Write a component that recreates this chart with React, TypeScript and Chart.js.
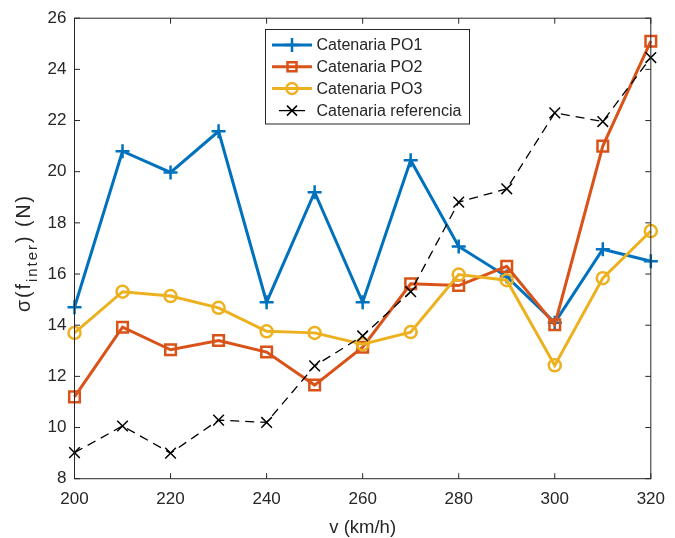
import React, { useEffect, useRef } from "react";
import { Chart, registerables } from "chart.js";

Chart.register(...registerables);

const speeds = [200, 210, 220, 230, 240, 250, 260, 270, 280, 290, 300, 310, 320];
const po1 = [14.7, 20.8, 19.97, 21.58, 14.9, 19.2, 14.9, 20.45, 17.08, 15.9, 14.1, 16.97, 16.5];
const po2 = [11.2, 13.92, 13.04, 13.4, 12.95, 11.66, 13.14, 15.62, 15.55, 16.3, 14.02, 21.0, 25.1];
const po3 = [13.7, 15.31, 15.14, 14.68, 13.76, 13.7, 13.26, 13.73, 15.98, 15.76, 12.43, 15.84, 17.68];
const ref = [9.02, 10.06, 9.0, 10.29, 10.2, 12.41, 13.58, 15.31, 18.81, 19.33, 22.3, 21.96, 24.46];

const seriesNames = ["Catenaria PO1", "Catenaria PO2", "Catenaria PO3", "Catenaria referencia"];
const xTitle = "v (km/h)";
const yTitleMain = "\u03C3(f";
const yTitleSub = "inter";
const yTitleEnd = ") (N)";

const C1 = "#0072BD";
const C2 = "#D95319";
const C3 = "#EDB120";
const CK = "#000000";
const AX = "#262626";
const FONT = "'Liberation Sans', Arial, sans-serif";

function marker(ctx: CanvasRenderingContext2D, kind: string, x: number, y: number, r: number) {
  ctx.beginPath();
  if (kind === "plus") {
    ctx.moveTo(x - r, y); ctx.lineTo(x + r, y);
    ctx.moveTo(x, y - r); ctx.lineTo(x, y + r);
  } else if (kind === "square") {
    ctx.rect(x - r, y - r, 2 * r, 2 * r);
  } else if (kind === "circle") {
    ctx.arc(x, y, r, 0, Math.PI * 2);
  } else if (kind === "x") {
    ctx.moveTo(x - r, y - r); ctx.lineTo(x + r, y + r);
    ctx.moveTo(x - r, y + r); ctx.lineTo(x + r, y - r);
  }
  ctx.stroke();
}

const decorPlugin = {
  id: "decor",
  afterDraw(chart: any) {
    const ctx: any = chart.ctx;
    const a = chart.chartArea;
    const xs = chart.scales.x;
    const ys = chart.scales.y;
    ctx.save();
    ctx.strokeStyle = AX;
    ctx.lineWidth = 1;
    ctx.setLineDash([]);
    ctx.strokeRect(a.left, a.top, a.right - a.left, a.bottom - a.top);
    const tl = 5.5;
    ctx.beginPath();
    xs.ticks.forEach((t: any) => {
      const px = xs.getPixelForValue(t.value);
      ctx.moveTo(px, a.bottom); ctx.lineTo(px, a.bottom - tl);
      ctx.moveTo(px, a.top); ctx.lineTo(px, a.top + tl);
    });
    ys.ticks.forEach((t: any) => {
      const py = ys.getPixelForValue(t.value);
      ctx.moveTo(a.left, py); ctx.lineTo(a.left + tl, py);
      ctx.moveTo(a.right, py); ctx.lineTo(a.right - tl, py);
    });
    ctx.stroke();

    // x title
    ctx.fillStyle = AX;
    ctx.font = `18.5px ${FONT}`;
    ctx.textAlign = "center";
    ctx.textBaseline = "alphabetic";
    ctx.fillText(xTitle, (a.left + a.right) / 2, 533);

    // y title
    ctx.save();
    ctx.translate(30, 253);
    ctx.rotate(-Math.PI / 2);
    ctx.textAlign = "left";
    if ("letterSpacing" in ctx) ctx.letterSpacing = "2px";
    const mainFont = `19.5px ${FONT}`;
    const subFont = `15px ${FONT}`;
    ctx.font = mainFont;
    const w1 = ctx.measureText(yTitleMain).width;
    const w3 = ctx.measureText(yTitleEnd).width;
    ctx.font = subFont;
    const w2 = ctx.measureText(yTitleSub).width;
    const total = w1 + w2 + w3;
    let sx = -total / 2;
    ctx.font = mainFont;
    ctx.fillText(yTitleMain, sx, 0);
    sx += w1;
    ctx.font = subFont;
    ctx.fillText(yTitleSub, sx, 7);
    sx += w2;
    ctx.font = mainFont;
    ctx.fillText(yTitleEnd, sx, 0);
    if ("letterSpacing" in ctx) ctx.letterSpacing = "0px";
    ctx.restore();

    // legend
    const lx = 265.5, ly = 29.5, lw = 204, lh = 94.5;
    ctx.fillStyle = "#ffffff";
    ctx.fillRect(lx, ly, lw, lh);
    ctx.strokeStyle = AX;
    ctx.lineWidth = 1;
    ctx.strokeRect(lx, ly, lw, lh);
    const rows = [
      { c: C1, m: "plus", r: 7, lw: 3 },
      { c: C2, m: "square", r: 4.5, lw: 3 },
      { c: C3, m: "circle", r: 5.5, lw: 3 },
      { c: CK, m: "x", r: 5, lw: 1.3 },
    ];
    const ry = [45, 66.7, 88.4, 110.6];
    rows.forEach((row, i) => {
      const y = ry[i];
      ctx.strokeStyle = row.c;
      ctx.lineWidth = row.lw;
      ctx.setLineDash([]);
      ctx.beginPath();
      ctx.moveTo(i === 3 ? 279 : 272, y);
      ctx.lineTo(i === 3 ? 305 : 312, y);
      ctx.stroke();
      ctx.lineWidth = i === 3 ? 1.5 : 2.5;
      marker(ctx, row.m, 292, y, row.r);
      ctx.fillStyle = AX;
      ctx.font = `16px ${FONT}`;
      ctx.textAlign = "left";
      ctx.textBaseline = "middle";
      ctx.fillText(seriesNames[i], 316.5, y + 1);
    });
    ctx.restore();
  },
};

export default function App() {
  const ref1 = useRef<HTMLCanvasElement | null>(null);
  useEffect(() => {
    if (!ref1.current) return;
    const mk = (arr: number[]) => arr.map((v, i) => ({ x: speeds[i], y: v }));
    const chart = new Chart(ref1.current, {
      type: "line",
      data: {
        datasets: [
          {
            label: seriesNames[0], data: mk(po1), borderColor: C1, backgroundColor: "rgba(0,0,0,0)",
            borderWidth: 3, pointStyle: "cross", pointRadius: 7, pointBorderWidth: 2.5,
            pointBorderColor: C1, pointBackgroundColor: "rgba(0,0,0,0)", tension: 0, clip: false, order: 3,
          },
          {
            label: seriesNames[1], data: mk(po2), borderColor: C2, backgroundColor: "rgba(0,0,0,0)",
            borderWidth: 3, pointStyle: "rect", pointRadius: 7.5, pointBorderWidth: 2.5,
            pointBorderColor: C2, pointBackgroundColor: "rgba(0,0,0,0)", tension: 0, clip: false, order: 2,
          },
          {
            label: seriesNames[2], data: mk(po3), borderColor: C3, backgroundColor: "rgba(0,0,0,0)",
            borderWidth: 3, pointStyle: "circle", pointRadius: 6, pointBorderWidth: 2.5,
            pointBorderColor: C3, pointBackgroundColor: "rgba(0,0,0,0)", tension: 0, clip: false, order: 1,
          },
          {
            label: seriesNames[3], data: mk(ref), borderColor: CK, backgroundColor: "rgba(0,0,0,0)",
            borderWidth: 1.3, borderDash: [9, 6], pointStyle: "crossRot", pointRadius: 7.5, pointBorderWidth: 1.5,
            pointBorderColor: CK, pointBackgroundColor: "rgba(0,0,0,0)", tension: 0, clip: false, order: 0,
          },
        ],
      },
      options: {
        animation: false,
        responsive: false,
        devicePixelRatio: 1,
        layout: { padding: { left: 0, right: 15, top: 15.7, bottom: 0 } },
        plugins: { legend: { display: false }, tooltip: { enabled: false } },
        scales: {
          x: {
            type: "linear", min: 200, max: 320,
            grid: { display: false, drawTicks: false },
            border: { display: false },
            ticks: { stepSize: 20, color: AX, padding: 10, font: { size: 17, family: FONT }, maxRotation: 0 },
            afterFit: (s: any) => { s.height = 59.3; },
          },
          y: {
            min: 8, max: 26,
            grid: { display: false, drawTicks: false },
            border: { display: false },
            ticks: { stepSize: 2, color: AX, padding: 8, font: { size: 17, family: FONT } },
            afterFit: (s: any) => { s.width = 74.5; },
          },
        },
      },
      plugins: [decorPlugin],
    } as any);
    return () => chart.destroy();
  }, []);
  return (
    <div style={{ position: "fixed", left: 0, top: 0, width: 675, height: 538, background: "#fff" }}>
      <canvas ref={ref1} width={675} height={538} style={{ width: 675, height: 538 }} />
    </div>
  );
}
